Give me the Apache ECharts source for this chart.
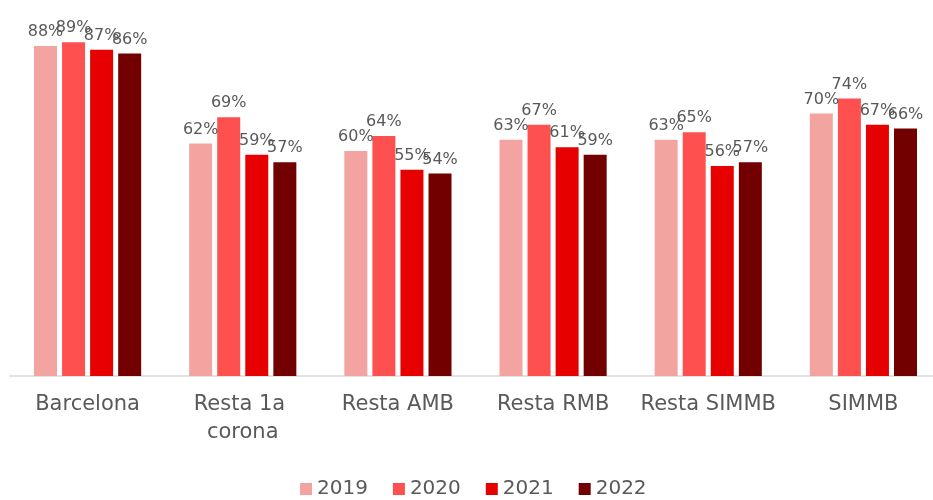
<!DOCTYPE html>
<html>
<head>
<meta charset="utf-8">
<script src="https://cdn.jsdelivr.net/npm/echarts@6/dist/echarts.min.js"></script>
<style>
  html, body { margin: 0; padding: 0; background: #fff; }
  #chart { width: 933px; height: 500px; }
</style>
</head>
<body>
<div id="chart"></div>
<script>
  // territoris
  var categories = ['Barcelona', 'Resta 1a corona', 'Resta AMB', 'Resta RMB', 'Resta SIMMB', 'SIMMB'];
  var years = ['2019', '2020', '2021', '2022'];
  // % per any
  var v2019 = [88, 62, 60, 63, 63, 70];
  var v2020 = [89, 69, 64, 67, 65, 74];
  var v2021 = [87, 59, 55, 61, 56, 67];
  var v2022 = [86, 57, 54, 59, 57, 66];

  var colors = ['#F4A4A0', '#FF5050', '#E60000', '#730000'];
  var values = [v2019, v2020, v2021, v2022];
  var font = 'DejaVu Sans';

  var series = years.map(function (y, i) {
    return {
      name: y,
      type: 'bar',
      data: values[i],
      barWidth: 23,
      barGap: '22%',
      itemStyle: { color: colors[i] },
      label: {
        show: true,
        position: 'top',
        distance: 6,
        formatter: '{c}%',
        color: '#595959',
        fontFamily: font,
        fontSize: 16
      }
    };
  });

  var chart = echarts.init(document.getElementById('chart'));
  chart.setOption({
    animation: false,
    color: colors,
    grid: { left: 10, top: 1, width: 931, height: 375, containLabel: false, outerBoundsMode: 'none' },
    legend: {
      data: years,
      left: 295,
      top: 474,
      icon: 'rect',
      itemWidth: 12,
      itemHeight: 12,
      itemGap: 25,
      textStyle: { color: '#595959', fontFamily: font, fontSize: 20 }
    },
    xAxis: {
      type: 'category',
      data: categories,
      axisLine: { lineStyle: { color: '#D9D9D9', width: 1.5 } },
      axisTick: { show: false },
      axisLabel: {
        margin: 15,
        color: '#595959',
        fontFamily: font,
        fontSize: 21,
        lineHeight: 28,
        width: 145,
        overflow: 'break',
        interval: 0
      }
    },
    yAxis: {
      type: 'value',
      min: 0,
      max: 100,
      show: false,
      splitLine: { show: false }
    },
    series: series
  });
</script>
</body>
</html>
